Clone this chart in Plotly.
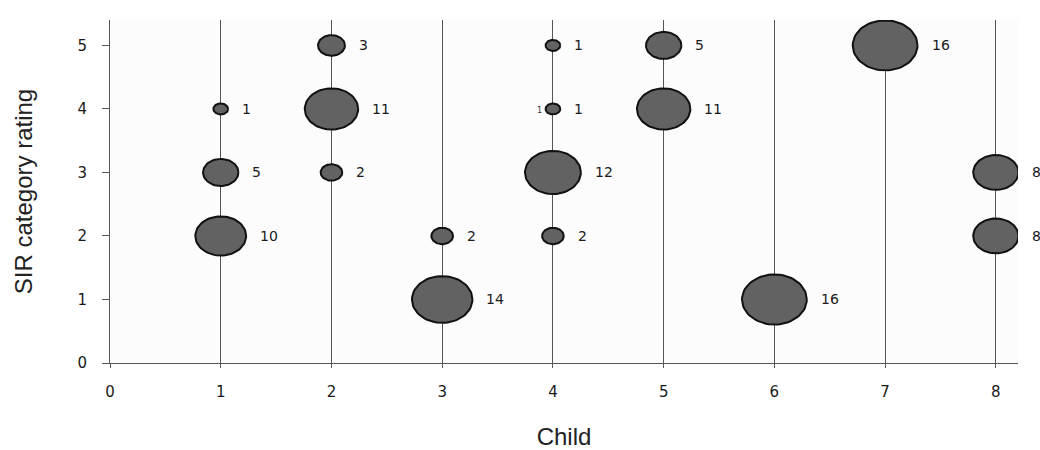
import numpy as np
import plotly.graph_objects as go

# ---- data ----
child = [1, 1, 1, 2, 2, 2, 3, 3, 4, 4, 4, 4, 5, 5, 6, 7, 8, 8]
rating = [4, 3, 2, 5, 4, 3, 2, 1, 5, 4, 3, 2, 5, 4, 1, 5, 3, 2]
count = [1, 5, 10, 3, 11, 2, 2, 14, 1, 1, 12, 2, 5, 11, 16, 16, 8, 8]
x_ticks = [0, 1, 2, 3, 4, 5, 6, 7, 8]
y_ticks = [0, 1, 2, 3, 4, 5]

# ---- layout constants ----
W, H = 1040, 450
ML, MR, MT, MB = 110, 22, 20, 87
XR = [0, 8.2]
YR = [0, 5.4]
px_x = (W - ML - MR) / (XR[1] - XR[0])
px_y = (H - MT - MB) / (YR[1] - YR[0])
K = 8.35          # half-width in px per sqrt(count)
ASPECT = 0.78     # height / width of the ellipses
NUMFONT = "DejaVu Sans, Verdana, sans-serif"
TITLEFONT = "Liberation Sans, Arial, sans-serif"

# ellipse outlines computed from data through axis scale
ex, ey = [], []
t = np.linspace(0, 2 * np.pi, 73)
for c, r, n in zip(child, rating, count):
    rx = (K * np.sqrt(n) - 1) / px_x
    ry = (K * ASPECT * np.sqrt(n) - 1) / px_y
    ex += list(c + rx * np.cos(t)) + [None]
    ey += list(r + ry * np.sin(t)) + [None]

fig = go.Figure()
fig.add_trace(go.Scatter(
    x=ex, y=ey, mode="lines", fill="toself",
    fillcolor="#626262", line=dict(color="#111111", width=2),
    hoverinfo="skip", showlegend=False))

annotations = []
for c, r, n in zip(child, rating, count):
    annotations.append(dict(
        x=c, y=r, xref="x", yref="y", text=str(n), showarrow=False,
        xanchor="left", yanchor="middle", xshift=K * np.sqrt(n) + 11,
        font=dict(family=NUMFONT, size=14, color="#1a1a1a")))
# small stray mark left of the child-4 / rating-4 bubble in the original
annotations.append(dict(
    x=4, y=4, xref="x", yref="y", text="1", showarrow=False,
    xanchor="right", yanchor="middle", xshift=-K - 1, yshift=-2,
    font=dict(family=NUMFONT, size=8, color="#333333")))

fig.update_layout(
    width=W, height=H,
    margin=dict(l=ML, r=MR, t=MT, b=MB),
    paper_bgcolor="white", plot_bgcolor="#fcfcfc",
    font=dict(family=TITLEFONT, color="#222222"),
    annotations=annotations,
    xaxis=dict(
        range=XR, tickvals=x_ticks, ticktext=[str(v) for v in x_ticks],
        automargin=False,
        showgrid=True, gridcolor="#555555", gridwidth=1, zeroline=False,
        showline=True, linecolor="#555555", linewidth=1,
        ticks="outside", ticklen=4, tickcolor="#555555",
        tickfont=dict(family=NUMFONT, size=15, color="#1a1a1a"), ticklabelstandoff=11,
        title=dict(text="Child", font=dict(family=TITLEFONT, size=24, color="#222222"), standoff=34)),
    yaxis=dict(
        range=YR, tickvals=y_ticks, ticktext=[str(v) for v in y_ticks],
        automargin=False,
        showgrid=False, zeroline=False,
        showline=True, linecolor="#555555", linewidth=1,
        ticks="outside", ticklen=7, tickcolor="#555555",
        tickfont=dict(family=NUMFONT, size=15, color="#1a1a1a"), ticklabelstandoff=12,
        title=dict(text="SIR category rating", font=dict(family=TITLEFONT, size=24, color="#222222"), standoff=38)),
)

fig.write_html("out.html", config={"displayModeBar": False},
               post_script="document.body.style.margin='0';")
